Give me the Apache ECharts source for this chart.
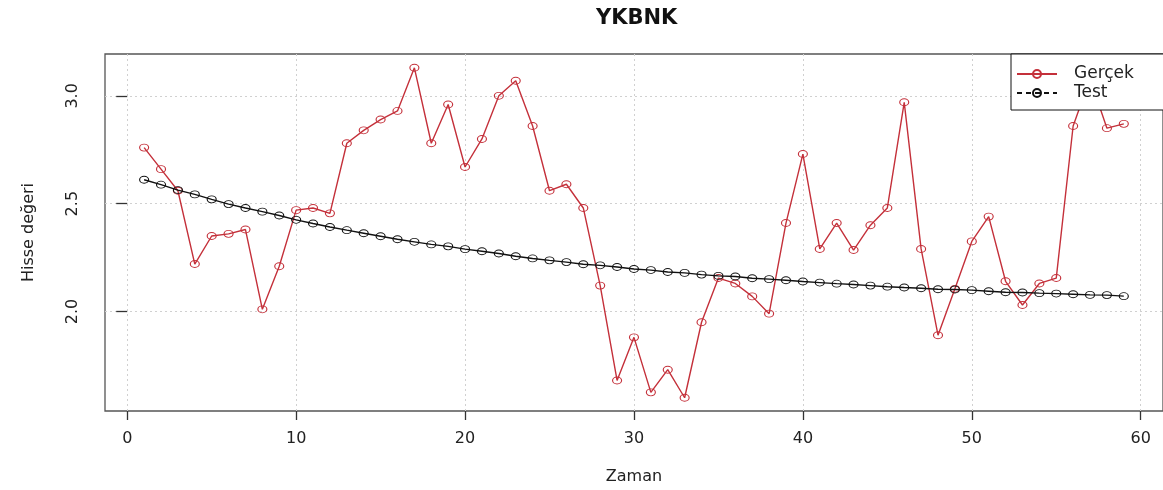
<!DOCTYPE html>
<html>
<head>
<meta charset="utf-8">
<script src="https://cdn.jsdelivr.net/npm/echarts@6/dist/echarts.min.js"></script>
<style>html,body{margin:0;padding:0;background:#fff;}#c{width:1163px;height:490px;}</style>
</head>
<body>
<div id="c"></div>
<script>
const zaman = [1,2,3,4,5,6,7,8,9,10,11,12,13,14,15,16,17,18,19,20,21,22,23,24,25,26,27,28,29,30,31,32,33,34,35,36,37,38,39,40,41,42,43,44,45,46,47,48,49,50,51,52,53,54,55,56,57,58,59];
const gercek = [2.76,2.66,2.56,2.22,2.35,2.36,2.38,2.01,2.21,2.47,2.48,2.455,2.78,2.84,2.89,2.93,3.13,2.78,2.96,2.67,2.80,3.00,3.07,2.86,2.56,2.59,2.48,2.12,1.68,1.88,1.625,1.73,1.60,1.95,2.155,2.13,2.07,1.99,2.41,2.73,2.29,2.41,2.285,2.40,2.48,2.97,2.29,1.89,2.105,2.325,2.44,2.14,2.03,2.13,2.155,2.86,3.08,2.85,2.87];
const test = [2.611,2.588,2.563,2.543,2.520,2.498,2.480,2.463,2.445,2.425,2.408,2.392,2.377,2.363,2.349,2.335,2.323,2.311,2.302,2.289,2.279,2.269,2.256,2.246,2.237,2.229,2.219,2.214,2.206,2.197,2.192,2.183,2.179,2.171,2.165,2.162,2.154,2.150,2.145,2.139,2.134,2.129,2.125,2.120,2.115,2.111,2.108,2.103,2.102,2.099,2.094,2.089,2.088,2.085,2.083,2.080,2.077,2.076,2.071];
const xTicks = [0,10,20,30,40,50,60];
const yTicks = [2.0,2.5,3.0];
const titleText = 'YKBNK';
const xName = 'Zaman';
const yName = 'Hisse değeri';
const seriesNames = ['Gerçek','Test'];

const FONT = 'DejaVu Sans';
const chart = echarts.init(document.getElementById('c'), null, {renderer:'canvas'});
const pair = (ys) => ys.map((v,i) => [zaman[i], v]);
chart.setOption({
  animation: false,
  backgroundColor: '#fff',
  title: {
    text: titleText, left: 591, top: 3,
    textStyle: {fontFamily: FONT, fontWeight: 'bold', fontSize: 21, color: '#111'}
  },
  grid: {left: 105, top: 54, right: -3.4, bottom: 77.3, show: true, borderColor: '#555', borderWidth: 1.3, backgroundColor: 'transparent'},
  legend: {
    orient: 'vertical', left: 1011, top: 54,
    padding: [11, 60, 8, 5],
    backgroundColor: '#fff', borderColor: '#111', borderWidth: 1,
    itemWidth: 40, itemHeight: 10, itemGap: 1,
    textStyle: {fontFamily: FONT, fontSize: 17, color: '#222', lineHeight: 18, padding: [0,0,0,12]},
    data: [
      {name: seriesNames[0]},
      {name: seriesNames[1], lineStyle: {type: [5,4]}}
    ]
  },
  xAxis: {
    type: 'value', min: -1.316, max: 61.32,
    name: xName, nameLocation: 'middle', nameGap: 58,
    nameTextStyle: {fontFamily: FONT, fontSize: 16, color: '#222'},
    axisLine: {show: false},
    axisTick: {show: true, length: 9, customValues: xTicks, lineStyle: {color: '#333', width: 1.3}},
    axisLabel: {customValues: xTicks, margin: 20, fontFamily: FONT, fontSize: 16, color: '#222'},
    splitLine: {show: true, lineStyle: {color: '#d0d0d0', type: [2,3], width: 1}}
  },
  yAxis: {
    type: 'value', min: 1.5385, max: 3.194,
    name: yName, nameLocation: 'middle', nameGap: 68, nameRotate: 90,
    nameTextStyle: {fontFamily: FONT, fontSize: 16, color: '#222'},
    axisLine: {show: false},
    axisTick: {show: true, length: 11, customValues: yTicks, lineStyle: {color: '#333', width: 1.3}},
    axisLabel: {customValues: yTicks, rotate: 90, margin: 24, fontFamily: FONT, fontSize: 16, color: '#222',
      formatter: (v) => v.toFixed(1)},
    splitLine: {show: true, lineStyle: {color: '#d0d0d0', type: [2,3], width: 1}}
  },
  series: [
    {
      name: seriesNames[0], type: 'line', data: pair(gercek),
      symbol: 'circle', symbolSize: [9, 7], showSymbol: true,
      lineStyle: {color: '#c4303a', width: 1.4},
      itemStyle: {color: 'rgba(255,255,255,0)', borderColor: '#c4303a', borderWidth: 1},
      z: 2
    },
    {
      name: seriesNames[1], type: 'line', data: pair(test),
      symbol: 'circle', symbolSize: [9, 7], showSymbol: true,
      lineStyle: {color: '#111', width: 1.4},
      itemStyle: {color: 'rgba(255,255,255,0)', borderColor: '#111', borderWidth: 1},
      z: 3
    }
  ]
});
</script>
</body>
</html>
